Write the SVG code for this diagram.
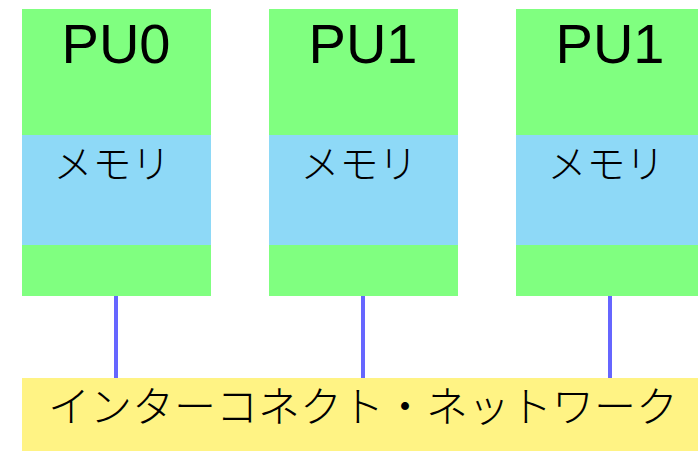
<svg xmlns="http://www.w3.org/2000/svg" width="698" height="451" viewBox="0 0 698 451">
<style>
.pu{fill:#80ff80}
.mem{fill:#8ed9f7}
.title{font-family:"Liberation Sans",Arial,sans-serif;font-size:56px;fill:#000;text-anchor:middle}
.jp{font-family:"Noto Sans CJK JP","Noto Sans",sans-serif;font-weight:300;fill:#000;text-anchor:middle}
.link{stroke:#6666ff;stroke-width:4}
</style>
<rect width="698" height="451" fill="#fff"/>
<g id="connectors">
<line class="link" x1="116" y1="296" x2="116" y2="378"/>
<line class="link" x1="363" y1="296" x2="363" y2="378"/>
<line class="link" x1="610" y1="296" x2="610" y2="378"/>
</g>
<g id="pu0">
<rect class="pu" x="22" y="9" width="189" height="287"/>
<rect class="mem" x="22" y="135" width="189" height="110"/>
<text class="title" x="116" y="63">PU0</text>
<text class="jp" x="112" y="178" font-size="39">メモリ</text>
</g>
<g id="pu1a">
<rect class="pu" x="269" y="9" width="189" height="287"/>
<rect class="mem" x="269" y="135" width="189" height="110"/>
<text class="title" x="363" y="63">PU1</text>
<text class="jp" x="359" y="178" font-size="39">メモリ</text>
</g>
<g id="pu1b">
<rect class="pu" x="516" y="9" width="189" height="287"/>
<rect class="mem" x="516" y="135" width="189" height="110"/>
<text class="title" x="610" y="63">PU1</text>
<text class="jp" x="606" y="178" font-size="39">メモリ</text>
</g>
<g id="network">
<rect x="22" y="378" width="680" height="80" fill="#fff384"/>
<text class="jp" x="363" y="422" font-size="42">インターコネクト・ネットワーク</text>
</g>
</svg>
